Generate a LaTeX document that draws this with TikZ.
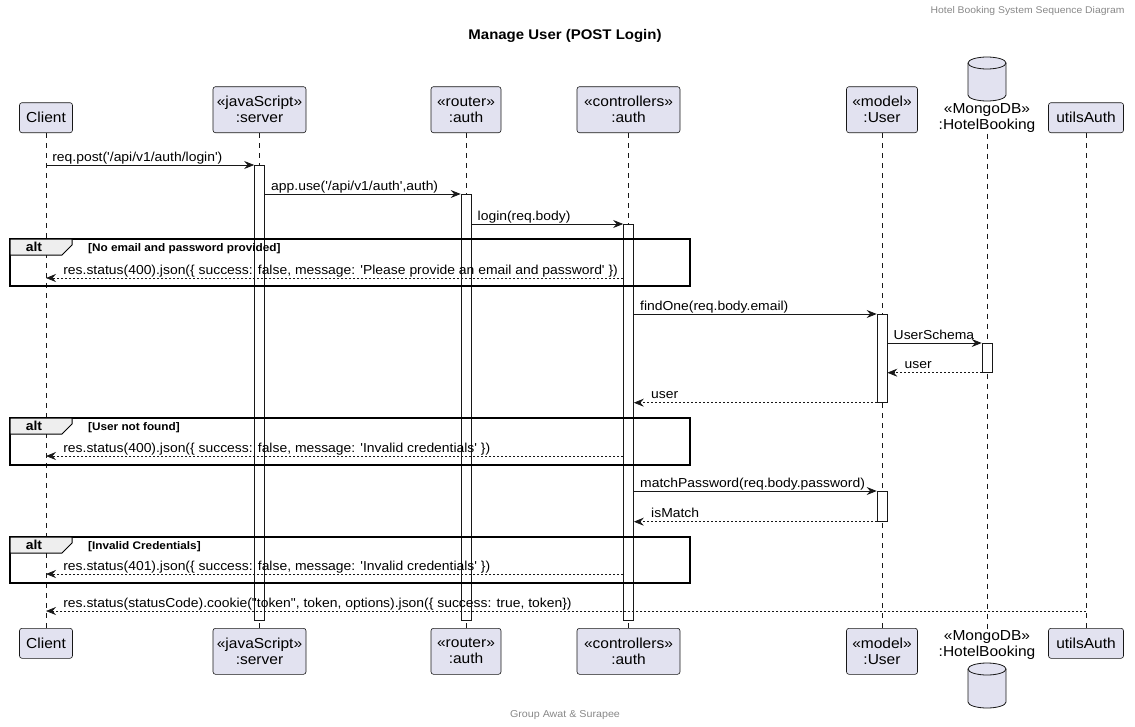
\documentclass[tikz,border=0pt]{standalone}
\usepackage{fontspec}
\setmainfont[FakeStretch=1.07, Ligatures=TeXOff]{Liberation Sans}
\usetikzlibrary{arrows.meta,positioning,calc}

\definecolor{partfill}{RGB}{226,226,240}
\definecolor{partline}{RGB}{24,24,24}
\definecolor{greytext}{RGB}{136,136,136}
\definecolor{tabfill}{RGB}{238,238,238}

\begin{document}
\begin{tikzpicture}[x=1pt, y=-1pt, >={Stealth[length=10pt,width=8pt,inset=3.5pt]},
    part/.style={rectangle, draw=partline, fill=partfill, rounded corners=2.5pt,
      line width=0.6pt, align=center, inner sep=0pt, minimum height=30pt,
      font=\fontsize{14.5}{16}\selectfont},
    twoline/.style={part, minimum height=46pt},
    dbtext/.style={align=center, inner sep=1pt, font=\fontsize{14.5}{16}\selectfont},
    db/.style={draw=partline, fill=partfill, line width=0.8pt},
    life/.style={draw=partline, line width=0.5pt, dash pattern=on 5pt off 5pt},
    act/.style={rectangle, draw=partline, fill=white, line width=0.7pt,
      minimum width=10pt, inner sep=0pt, anchor=north},
    msg/.style={->, draw=partline, line width=0.7pt},
    ret/.style={msg, dash pattern=on 2pt off 2pt},
    lbl/.style={font=\fontsize{13}{15}\selectfont, inner sep=0pt, anchor=base west, yshift=4pt},
    frame/.style={draw=black, line width=1.5pt},
    tab/.style={draw=black, line width=1pt, fill=tabfill},
    cond/.style={font=\bfseries\fontsize{11}{13}\selectfont, inner sep=0pt, anchor=base west}]

  \useasboundingbox (0,0) rectangle (1135,726);

  % header, title, footer
  \node[font=\fontsize{9.7}{12}\selectfont, text=greytext, anchor=east] (header) at (1128,11) {Hotel Booking System Sequence Diagram};
  \node[font=\bfseries\fontsize{14}{16}\selectfont] (title) at (565,36) {Manage User (POST Login)};
  \node[font=\fontsize{10}{12}\selectfont, text=greytext] (footer) at (565,715) {Group Awat \& Surapee};

  % participants, top
  \node[part, minimum width=53pt, anchor=south] (client) at (46,133) {Client};
  \node[twoline, minimum width=93pt, anchor=south] (server) at (259.5,133) {«javaScript»\\:server};
  \node[twoline, minimum width=70pt, anchor=south] (router) at (466,133) {«router»\\:auth};
  \node[twoline, minimum width=103pt, anchor=south] (ctrl) at (628.5,133) {«controllers»\\:auth};
  \node[twoline, minimum width=71pt, anchor=south] (user) at (882,133) {«model»\\:User};
  \node[dbtext] (mongo) at (987,118) {«MongoDB»\\:HotelBooking};
  \node[part, minimum width=75pt, anchor=south] (utils) at (1086,133) {utilsAuth};

  % participants, bottom
  \node[part, minimum width=53pt, anchor=north] (client-b) at (46,628) {Client};
  \node[twoline, minimum width=93pt, anchor=north] (server-b) at (259.5,628) {«javaScript»\\:server};
  \node[twoline, minimum width=70pt, anchor=north] (router-b) at (466,628) {«router»\\:auth};
  \node[twoline, minimum width=103pt, anchor=north] (ctrl-b) at (628.5,628) {«controllers»\\:auth};
  \node[twoline, minimum width=71pt, anchor=north] (user-b) at (882,628) {«model»\\:User};
  \node[dbtext] (mongo-b) at (987,645.5) {«MongoDB»\\:HotelBooking};
  \node[part, minimum width=75pt, anchor=north] (utils-b) at (1086,628) {utilsAuth};

  % database drums
  \path[db] (968,63) -- (968,95) arc[start angle=180, end angle=0, x radius=19, y radius=6]
    -- (1006,63) arc[start angle=0, end angle=-180, x radius=19, y radius=6] -- cycle;
  \draw[db, fill=none] (968,63) arc[start angle=180, end angle=0, x radius=19, y radius=6];
  \path[db] (968,669) -- (968,702) arc[start angle=180, end angle=0, x radius=19, y radius=6]
    -- (1006,669) arc[start angle=0, end angle=-180, x radius=19, y radius=6] -- cycle;
  \draw[db, fill=none] (968,669) arc[start angle=180, end angle=0, x radius=19, y radius=6];

  % lifelines
  \draw[life] (client) -- (client-b);
  \draw[life] (server) -- (server-b);
  \draw[life] (router) -- (router-b);
  \draw[life] (ctrl) -- (ctrl-b);
  \draw[life] (user) -- (user-b);
  \draw[life] (mongo) -- (mongo-b);
  \draw[life] (utils) -- (utils-b);

  % activations
  \node[act, minimum height=455pt] (act-server) at (259.5,165) {};
  \node[act, minimum height=426pt] (act-router) at (466,194) {};
  \node[act, minimum height=396pt] (act-ctrl) at (628.5,224) {};
  \node[act, minimum height=88pt] (act-user1) at (882,314) {};
  \node[act, minimum height=29pt] (act-mongo) at (987,343) {};
  \node[act, minimum height=30pt] (act-user2) at (882,491) {};

  % message rows
  \coordinate (r4) at (0,278);
  \coordinate (r9) at (0,456);
  \coordinate (r12) at (0,574);
  \coordinate (r13) at (0,611);

  \draw[msg] (client |- act-server.north) -- node[lbl, pos=0, xshift=6pt] {req.post('/api/v1/auth/login')} (act-server.north west);
  \draw[msg] (act-server.east |- act-router.north) -- node[lbl, pos=0, xshift=6pt] {app.use('/api/v1/auth',auth)} (act-router.north west);
  \draw[msg] (act-router.east |- act-ctrl.north) -- node[lbl, pos=0, xshift=6pt] {login(req.body)} (act-ctrl.north west);

  % alt 1
  \draw[frame] (10,239) rectangle (690,286);
  \filldraw[tab] (10,239) -- (72,239) -- (72,245) -- (62,255) -- (10,255) -- cycle;
  \node[font=\bfseries\fontsize{13}{15}\selectfont] (alt1) at (34,247) {alt};
  \node[cond] (cond1) at (88,251) {[No email and password provided]};
  \draw[ret] (act-ctrl.west |- r4) -- node[lbl, pos=1, xshift=17pt] {res.status(400).json(\{ success: false, message: 'Please provide an email and password' \})} (client |- r4);

  \draw[msg] (act-ctrl.east |- act-user1.north) -- node[lbl, pos=0, xshift=6pt] {findOne(req.body.email)} (act-user1.north west);
  \draw[msg] (act-user1.east |- act-mongo.north) -- node[lbl, pos=0, xshift=6pt] {UserSchema} (act-mongo.north west);
  \draw[ret] (act-mongo.south west) -- node[lbl, pos=1, xshift=17pt] {user} (act-user1.east |- act-mongo.south);
  \draw[ret] (act-user1.south west) -- node[lbl, pos=1, xshift=17pt] {user} (act-ctrl.east |- act-user1.south);

  % alt 2
  \draw[frame] (10,418) rectangle (690,465);
  \filldraw[tab] (10,418) -- (72,418) -- (72,424) -- (62,434) -- (10,434) -- cycle;
  \node[font=\bfseries\fontsize{13}{15}\selectfont] (alt2) at (34,426) {alt};
  \node[cond] (cond2) at (88,430) {[User not found]};
  \draw[ret] (act-ctrl.west |- r9) -- node[lbl, pos=1, xshift=17pt] {res.status(400).json(\{ success: false, message: 'Invalid credentials' \})} (client |- r9);

  \draw[msg] (act-ctrl.east |- act-user2.north) -- node[lbl, pos=0, xshift=6pt] {matchPassword(req.body.password)} (act-user2.north west);
  \draw[ret] (act-user2.south west) -- node[lbl, pos=1, xshift=17pt] {isMatch} (act-ctrl.east |- act-user2.south);

  % alt 3
  \draw[frame] (10,537) rectangle (690,583);
  \filldraw[tab] (10,537) -- (72,537) -- (72,543) -- (62,553) -- (10,553) -- cycle;
  \node[font=\bfseries\fontsize{13}{15}\selectfont] (alt3) at (34,545) {alt};
  \node[cond] (cond3) at (88,549) {[Invalid Credentials]};
  \draw[ret] (act-ctrl.west |- r12) -- node[lbl, pos=1, xshift=17pt] {res.status(401).json(\{ success: false, message: 'Invalid credentials' \})} (client |- r12);

  \draw[ret] (utils |- r13) -- node[lbl, pos=1, xshift=17pt] {res.status(statusCode).cookie("token", token, options).json(\{ success: true, token\})} (client |- r13);
\end{tikzpicture}
\end{document}
